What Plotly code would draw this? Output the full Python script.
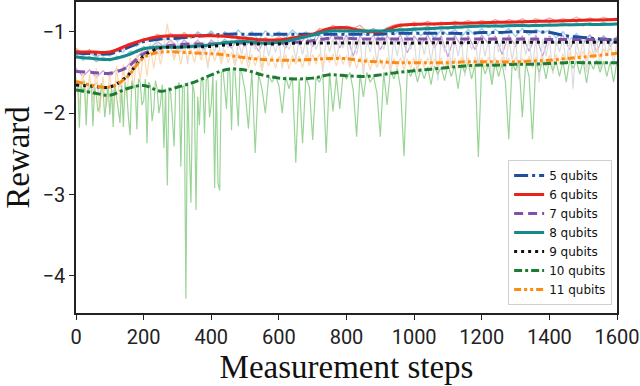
import plotly.graph_objects as go

# Smoothed reward curves, read every 50 measurement steps
steps_s = list(range(0, 1601, 50))
smooth_5 = [-1.26, -1.27, -1.27, -1.20, -1.12, -1.09, -1.08, -1.06, -1.04, -1.03, -1.03, -1.03,
            -1.03, -1.03, -1.03, -1.03, -1.03, -1.03, -1.03, -1.02, -1.02, -1.02, -1.02, -1.02,
            -1.01, -1.01, -1.00, -1.00, -1.01, -1.05, -1.07, -1.09, -1.10]
smooth_6 = [-1.245, -1.25, -1.25, -1.17, -1.10, -1.06, -1.05, -1.05, -1.05, -1.06, -1.08, -1.10,
            -1.10, -1.07, -1.03, -0.96, -0.95, -0.99, -1.00, -0.93, -0.91, -0.905, -0.90, -0.895,
            -0.89, -0.885, -0.88, -0.875, -0.87, -0.865, -0.86, -0.855, -0.85]
smooth_7 = [-1.49, -1.50, -1.51, -1.44, -1.27, -1.19, -1.16, -1.15, -1.15, -1.14, -1.14, -1.14,
            -1.14, -1.13, -1.11, -1.08, -1.08, -1.09, -1.09, -1.09, -1.09, -1.09, -1.09, -1.09,
            -1.09, -1.09, -1.09, -1.09, -1.095, -1.095, -1.095, -1.095, -1.095]
smooth_8 = [-1.31, -1.33, -1.34, -1.29, -1.21, -1.19, -1.19, -1.18, -1.16, -1.13, -1.12, -1.14,
            -1.13, -1.09, -1.04, -0.99, -0.99, -0.99, -0.99, -0.98, -0.97, -0.96, -0.95, -0.94,
            -0.93, -0.93, -0.925, -0.925, -0.92, -0.915, -0.91, -0.91, -0.905]
smooth_9 = [-1.655, -1.67, -1.68, -1.55, -1.30, -1.20, -1.19, -1.185, -1.18, -1.16, -1.15, -1.15,
            -1.15, -1.14, -1.14, -1.14, -1.14, -1.14, -1.14, -1.14, -1.14, -1.135, -1.135, -1.135,
            -1.13, -1.13, -1.13, -1.13, -1.13, -1.13, -1.13, -1.13, -1.13]
smooth_10 = [-1.715, -1.75, -1.78, -1.70, -1.66, -1.73, -1.68, -1.62, -1.53, -1.46, -1.47, -1.53,
             -1.57, -1.58, -1.57, -1.53, -1.54, -1.55, -1.53, -1.50, -1.48, -1.46, -1.44, -1.42,
             -1.41, -1.41, -1.40, -1.40, -1.39, -1.38, -1.38, -1.38, -1.38]
smooth_11 = [-1.61, -1.66, -1.68, -1.56, -1.32, -1.25, -1.25, -1.26, -1.27, -1.29, -1.32, -1.34,
             -1.35, -1.35, -1.34, -1.33, -1.33, -1.36, -1.37, -1.38, -1.38, -1.38, -1.38, -1.37,
             -1.37, -1.37, -1.37, -1.36, -1.35, -1.33, -1.31, -1.29, -1.265]

# Raw rewards, every 20 steps
steps_20 = list(range(0, 1601, 20))
raw_5 = [-1.22, -1.30, -1.25, -1.32, -1.26, -1.30, -1.24, -1.25, -1.15, -1.18, -1.10, -1.12, -1.05,
         -1.10, -1.04, -1.12, -1.03, -1.08, -1.00, -1.06, -0.99, -1.08, -1.00, -1.06, -0.98, -1.07,
         -1.00, -1.10, -0.99, -1.06, -1.00, -1.08, -0.98, -1.05, -1.00, -1.12, -0.98, -1.05, -0.99,
         -1.08, -0.98, -1.06, -0.99, -1.05, -0.98, -1.10, -0.98, -1.04, -0.97, -1.06, -0.98, -1.05,
         -0.97, -1.08, -0.98, -1.04, -0.97, -1.06, -0.97, -1.04, -0.96, -1.05, -0.97, -1.03, -0.96,
         -1.06, -0.96, -1.04, -0.97, -1.02, -0.98, -1.08, -1.00, -1.10, -1.02, -1.12, -1.04, -1.14,
         -1.05, -1.12, -1.06]
raw_6 = [-1.20, -1.28, -1.22, -1.30, -1.24, -1.29, -1.21, -1.22, -1.14, -1.16, -1.08, -1.10, -1.03,
         -1.07, -1.02, -1.08, -1.01, -1.07, -1.02, -1.06, -1.01, -1.07, -1.03, -1.08, -1.06, -1.12,
         -1.08, -1.13, -1.07, -1.12, -1.06, -1.10, -1.05, -1.08, -1.01, -1.04, -0.96, -0.98, -0.92,
         -0.97, -0.93, -0.96, -0.92, -1.00, -0.96, -1.01, -0.95, -0.92, -0.90, -0.93, -0.88, -0.92,
         -0.87, -0.92, -0.88, -0.91, -0.87, -0.90, -0.86, -0.90, -0.86, -0.89, -0.85, -0.89, -0.85,
         -0.88, -0.84, -0.88, -0.84, -0.87, -0.83, -0.87, -0.84, -0.86, -0.82, -0.86, -0.83, -0.86,
         -0.82, -0.85, -0.83]
raw_7 = [-1.45, -1.55, -1.47, -1.56, -1.48, -1.55, -1.46, -1.48, -1.38, -1.32, -1.22, -1.20, -1.12,
         -1.18, -1.10, -1.20, -1.10, -1.18, -1.10, -1.22, -1.10, -1.17, -1.09, -1.20, -1.08, -1.18,
         -1.09, -1.24, -1.08, -1.17, -1.09, -1.20, -1.07, -1.16, -1.06, -1.18, -1.04, -1.14, -1.03,
         -1.20, -1.04, -1.30, -1.05, -1.16, -1.04, -1.22, -1.05, -1.15, -1.04, -1.26, -1.05, -1.16,
         -1.04, -1.20, -1.05, -1.31, -1.04, -1.18, -1.05, -1.22, -1.04, -1.15, -1.05, -1.28, -1.04,
         -1.18, -1.05, -1.24, -1.04, -1.30, -1.05, -1.16, -1.04, -1.22, -1.05, -1.15, -1.04, -1.25,
         -1.05, -1.18, -1.06]
raw_8 = [-1.28, -1.35, -1.30, -1.37, -1.31, -1.36, -1.30, -1.32, -1.24, -1.26, -1.18, -1.22, -1.16,
         -1.21, -1.15, -1.22, -1.15, -1.20, -1.14, -1.19, -1.13, -1.17, -1.10, -1.15, -1.09, -1.14,
         -1.10, -1.16, -1.11, -1.15, -1.10, -1.13, -1.07, -1.10, -1.02, -1.06, -0.98, -1.02, -0.96,
         -1.01, -0.96, -1.02, -0.96, -1.01, -0.96, -1.02, -0.95, -1.00, -0.95, -0.99, -0.94, -0.98,
         -0.93, -0.98, -0.93, -0.97, -0.92, -0.96, -0.92, -0.95, -0.91, -0.95, -0.91, -0.95, -0.91,
         -0.94, -0.90, -0.94, -0.90, -0.94, -0.90, -0.93, -0.89, -0.93, -0.89, -0.93, -0.89, -0.92,
         -0.88, -0.92, -0.89]

# Raw rewards, every 10 steps
steps_10 = list(range(0, 1601, 10))
raw_9 = [-1.62, -1.70, -1.60, -1.75, -1.65, -1.72, -1.62, -1.78, -1.66, -1.72, -1.64, -1.75, -1.60,
         -1.68, -1.50, -1.58, -1.40, -1.45, -1.30, -1.38, -1.22, -1.30, -1.15, -1.25, -1.12, -1.30,
         -1.14, -1.22, -1.12, -1.35, -1.13, -1.25, -1.12, -1.40, -1.14, -1.22, -1.11, -1.30, -1.13,
         -1.45, -1.12, -1.25, -1.10, -1.35, -1.11, -1.20, -1.10, -1.42, -1.11, -1.28, -1.10, -1.38,
         -1.12, -1.22, -1.10, -1.48, -1.11, -1.30, -1.12, -1.25, -1.10, -1.45, -1.11, -1.22, -1.10,
         -1.35, -1.09, -1.28, -1.10, -1.40, -1.09, -1.22, -1.10, -1.50, -1.09, -1.25, -1.08, -1.35,
         -1.09, -1.20, -1.08, -1.42, -1.09, -1.28, -1.08, -1.55, -1.09, -1.25, -1.08, -1.38, -1.09,
         -1.22, -1.08, -1.48, -1.09, -1.30, -1.08, -1.40, -1.09, -1.22, -1.08, -1.52, -1.09, -1.28,
         -1.08, -1.38, -1.09, -1.60, -1.08, -1.25, -1.09, -1.45, -1.08, -1.30, -1.09, -1.55, -1.08,
         -1.22, -1.09, -1.42, -1.08, -1.30, -1.09, -1.65, -1.08, -1.25, -1.09, -1.48, -1.08, -1.35,
         -1.09, -1.58, -1.08, -1.28, -1.09, -1.45, -1.08, -1.62, -1.09, -1.30, -1.08, -1.52, -1.09,
         -1.25, -1.08, -1.40, -1.09, -1.70, -1.08, -1.32, -1.09, -1.50, -1.08, -1.28, -1.09, -1.45,
         -1.08, -1.30, -1.09, -1.42, -1.10]
raw_11 = [-1.55, -1.90, -1.48, -1.95, -1.52, -1.85, -1.45, -2.00, -1.55, -1.92, -1.50, -1.98, -1.42,
          -1.88, -1.40, -1.82, -1.32, -1.70, -1.28, -1.60, -1.22, -1.55, -1.20, -1.45, -1.18, -1.40,
          -1.20, -0.90, -1.18, -1.35, -1.20, -1.40, -1.19, -1.33, -1.21, -1.38, -1.20, -1.35, -1.22,
          -1.42, -1.21, -1.36, -1.23, -1.40, -1.22, -1.38, -1.25, -1.42, -1.26, -1.40, -1.27, -1.45,
          -1.28, -1.42, -1.29, -1.48, -1.30, -1.42, -1.29, -1.45, -1.30, -1.42, -1.28, -1.46, -1.29,
          -1.40, -1.30, -1.44, -1.28, -1.42, -1.28, -1.40, -1.27, -1.43, -1.28, -1.38, -1.27, -1.42,
          -1.28, -1.40, -1.29, -1.44, -1.30, -1.45, -1.31, -1.42, -1.32, -1.47, -1.31, -1.44, -1.33,
          -1.46, -1.32, -1.48, -1.33, -1.44, -1.32, -1.47, -1.33, -1.45, -1.32, -1.48, -1.33, -1.44,
          -1.32, -1.46, -1.33, -1.43, -1.32, -1.47, -1.33, -1.44, -1.32, -1.46, -1.31, -1.43, -1.32,
          -1.46, -1.31, -1.44, -1.32, -1.45, -1.31, -1.43, -1.32, -1.46, -1.31, -1.43, -1.32, -1.45,
          -1.31, -1.44, -1.32, -1.42, -1.30, -1.44, -1.31, -1.42, -1.30, -1.43, -1.29, -1.41, -1.28,
          -1.40, -1.27, -1.39, -1.26, -1.38, -1.25, -1.36, -1.24, -1.35, -1.23, -1.33, -1.22, -1.32,
          -1.21, -1.30, -1.20, -1.30, -1.22]

# 10 qubits raw: every 5 steps up to 495, then every 10 steps
steps_10q = list(range(0, 500, 5)) + list(range(500, 1601, 10))
raw_10 = [-1.68, -1.62, -2.18, -1.66, -1.75, -1.60, -2.15, -1.72, -1.70, -1.64, -2.16, -1.68,
          -1.78, -1.98, -1.92, -1.63, -1.72, -2.05, -1.85, -1.66, -2.02, -1.70, -2.17, -1.65,
          -1.80, -1.95, -2.12, -1.66, -2.17, -1.62, -1.74, -2.05, -2.27, -1.60, -1.69, -1.66,
          -2.20, -1.58, -1.62, -1.90, -1.85, -1.58, -2.37, -1.62, -1.66, -2.10, -1.95, -1.60,
          -1.70, -2.00, -1.88, -1.65, -2.43, -1.70, -2.89, -1.68, -1.76, -2.05, -2.41, -1.66,
          -1.70, -1.62, -2.66, -1.68, -1.66, -4.28, -1.62, -2.40, -3.10, -1.64, -1.75, -3.19,
          -1.80, -2.15, -1.58, -1.55, -2.25, -1.60, -1.55, -2.05, -1.90, -1.52, -2.92, -1.60,
          -2.86, -2.95, -1.50, -1.48, -1.75, -1.95, -1.45, -1.50, -2.21, -1.46, -1.48, -1.85,
          -2.16, -1.47, -1.50, -1.62,
          -1.72, -2.19,
          -1.48, -2.49, -1.52, -1.70, -2.00, -1.55, -1.62, -1.54, -1.66, -2.00, -1.55, -1.70, -1.56,
          -2.61, -1.58, -2.37, -1.55, -1.68, -2.33, -1.56, -1.62, -1.52, -2.49, -1.50, -1.98, -1.55,
          -1.95, -1.52, -1.58, -1.50, -1.72, -2.29, -1.52, -1.80, -1.50, -1.62, -1.55, -1.75, -2.29,
          -1.50, -1.90, -1.47, -1.58, -1.45, -1.70, -2.53, -1.46, -1.55, -1.44, -1.62, -1.45, -1.58,
          -1.43, -1.65, -1.42, -1.52, -1.44, -1.60, -1.40, -1.55, -1.42, -1.70, -1.40, -1.50, -1.38,
          -1.58, -1.40, -2.54, -1.38, -1.52, -1.40, -1.65, -1.38, -1.55, -1.39, -1.62, -2.32, -1.38,
          -1.48, -1.36, -2.05, -1.38, -1.55, -2.32, -1.37, -1.50, -1.36, -1.58, -1.35, -1.48, -1.37,
          -1.55, -1.36, -1.62, -1.35, -1.45, -1.36, -1.52, -1.35, -1.63, -1.36, -1.46, -1.35, -1.50,
          -1.36, -1.55, -1.37, -1.62, -1.36]

fig = go.Figure()

# light raw traces first
raws = [
    (steps_20, raw_5, "#8ecfe8"),
    (steps_20, raw_6, "#f5a39a"),
    (steps_20, raw_7, "#c9a3d8"),
    (steps_20, raw_8, "#86d0cc"),
    (steps_10, raw_9, "#dcdcdc"),
    (steps_10, raw_11, "#fdd9b4"),
    (steps_10q, raw_10, "#9ad597"),
]
for xs, ys, col in raws:
    fig.add_trace(go.Scatter(x=xs, y=ys, mode="lines", showlegend=False, hoverinfo="skip",
                             line=dict(color=col, width=1.2)))

# smoothed curves on top
curves = [
    ("5 qubits", smooth_5, "#1f4e9e", "14px,4px,3px,4px"),
    ("6 qubits", smooth_6, "#e8231c", "solid"),
    ("7 qubits", smooth_7, "#7d52a8", "9px,5px"),
    ("8 qubits", smooth_8, "#17898a", "solid"),
    ("9 qubits", smooth_9, "#111111", "3px,4px"),
    ("10 qubits", smooth_10, "#1e7b34", "8px,3px,3px,3px"),
    ("11 qubits", smooth_11, "#ff8a10", "7px,3px,3px,3px,3px,3px"),
]
for name, ys, col, dash in curves:
    fig.add_trace(go.Scatter(x=steps_s, y=ys, mode="lines", name=name,
                             line=dict(color=col, width=3, dash=dash, shape="spline", smoothing=1)))

serif = "Liberation Serif, Times New Roman, serif"
fig.update_layout(
    width=640, height=386,
    margin=dict(l=76, r=23, t=2, b=73),
    plot_bgcolor="white", paper_bgcolor="white",
    font=dict(family="Roboto, sans-serif", size=20, color="#222"),
    legend=dict(x=0.991, y=0.026, xanchor="right", yanchor="bottom",
                bgcolor="white", bordercolor="#d0d0d0", borderwidth=1,
                font=dict(family="DejaVu Sans", size=12, color="#111"),
                itemwidth=30, tracegroupgap=0),
)
fig.update_xaxes(range=[0, 1600], tickvals=list(range(0, 1601, 200)), automargin=False,
                 showline=True, linecolor="#222", linewidth=1.5, mirror=True,
                 ticks="outside", ticklen=5, tickcolor="#222", showgrid=False, zeroline=False,
                 title=dict(text="Measurement steps", standoff=2,
                            font=dict(family=serif, size=33, color="#111")))
fig.update_yaxes(range=[-4.455, -0.635], tickvals=[-1, -2, -3, -4], automargin=False,
                 ticktext=["\u22121", "\u22122", "\u22123", "\u22124"],
                 showline=True, linecolor="#222", linewidth=1.5, mirror=True,
                 ticks="outside", ticklen=5, tickcolor="#222", showgrid=False, zeroline=False,
                 title=dict(text="Reward", standoff=13,
                            font=dict(family=serif, size=33, color="#111")))

# drop the default page margin so the figure sits at the window's corner
fig.write_html("out.html", config={"displayModeBar": False},
               post_script="document.body.style.margin='0';")
